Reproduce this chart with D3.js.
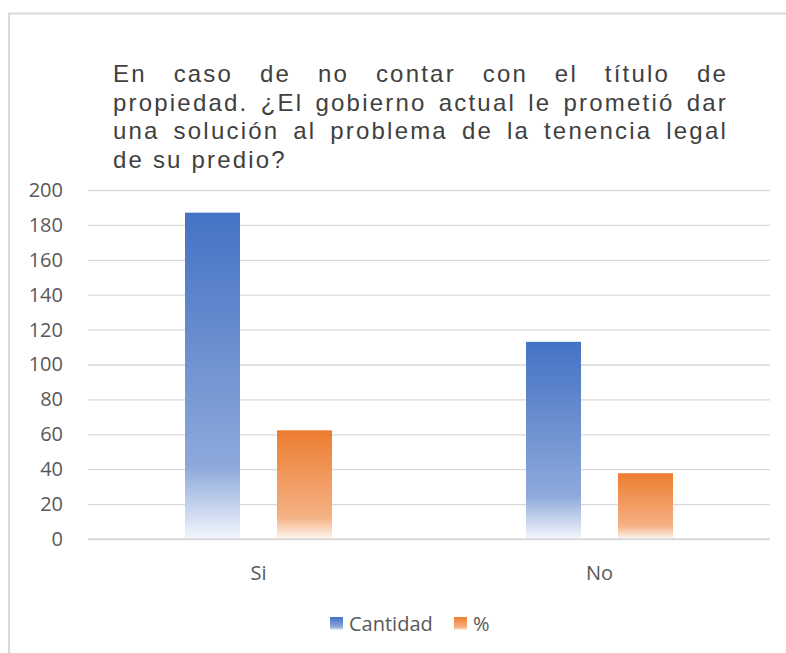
<!DOCTYPE html>
<html>
<head>
<meta charset="utf-8">
<script src="https://cdn.jsdelivr.net/npm/d3@7"></script>
<style>
  html, body { margin: 0; padding: 0; background: #fff; }
  svg { display: block; }
</style>
</head>
<body>
<div id="chart"></div>
<script>
"use strict";

//
//   DATA
//

var categories = ["Si", "No"];
var seriesNames = ["Cantidad", "%"];
var cantidad = [187, 113];
var porcentaje = [62.3, 37.7];
var yTicks = [0, 20, 40, 60, 80, 100, 120, 140, 160, 180, 200];
var titleLines = [
    "En caso de no contar con el título de",
    "propiedad. ¿El gobierno actual le prometió dar",
    "una solución al problema de la tenencia legal",
    "de su predio?"
];

//
//   LAYOUT
//

var W = 786, H = 653;
var plotLeft = 88, plotRight = 770, plotTop = 190, plotBottom = 539;
var colors = { "Cantidad": ["#4472C4", "#8EA9DB", "#F3F6FC"], "%": ["#ED7D31", "#F4B183", "#FEF6F1"] };
var LABEL_FONT = "'Open Sans', 'Noto Sans', sans-serif";

var svg = d3.select("#chart").append("svg")
    .attr("width", W)
    .attr("height", H);

// Gradients
var defs = svg.append("defs");
seriesNames.forEach(function (name, i) {
    var c = colors[name];
    var g = defs.append("linearGradient")
        .attr("id", "grad" + i)
        .attr("x1", 0).attr("y1", 0).attr("x2", 0).attr("y2", 1);
    g.append("stop").attr("offset", "0%").attr("stop-color", c[0]);
    g.append("stop").attr("offset", i == 0 ? "78%" : "80%").attr("stop-color", c[1]);
    g.append("stop").attr("offset", "100%").attr("stop-color", c[2]);
});

// Chart border
svg.append("path")
    .attr("d", "M9," + (H + 2) + "L9,13.5L" + (W + 2) + ",13.5")
    .attr("fill", "none")
    .attr("stroke", "#d9d9d9")
    .attr("stroke-width", 2);

// Scales
var y = d3.scaleLinear().domain([0, 200]).range([plotBottom, plotTop]);
var x0 = d3.scaleBand().domain(categories).range([plotLeft, plotRight]);
var barW = 55, barGap = 37;

// Gridlines + y labels
var yAxis = d3.axisLeft(y).tickValues(yTicks).tickSize(-(plotRight - plotLeft)).tickPadding(25);
var gy = svg.append("g")
    .attr("transform", "translate(" + plotLeft + ",0)")
    .call(yAxis);
gy.select(".domain").remove();
gy.selectAll(".tick line")
    .attr("stroke", "#d9d9d9")
    .attr("stroke-width", 1.3);
gy.selectAll(".tick text")
    .attr("fill", "#595959")
    .style("font-family", LABEL_FONT)
    .style("font-size", "20px");

// Bars
var seriesData = [cantidad, porcentaje];
seriesData.forEach(function (vals, si) {
    svg.append("g").selectAll("rect")
        .data(vals)
        .enter().append("rect")
        .attr("x", function (d, i) {
            var c = x0(categories[i]) + x0.bandwidth() / 2;
            return c - (barW * 2 + barGap) / 2 + si * (barW + barGap);
        })
        .attr("y", function (d) { return y(d); })
        .attr("width", barW)
        .attr("height", function (d) { return y(0) - y(d); })
        .attr("fill", "url(#grad" + si + ")");
});

// Baseline
svg.append("line")
    .attr("x1", plotLeft).attr("x2", plotRight)
    .attr("y1", y(0)).attr("y2", y(0))
    .attr("stroke", "#d9d9d9")
    .attr("stroke-width", 1.5);

// X labels
svg.append("g").selectAll("text")
    .data(categories)
    .enter().append("text")
    .attr("x", function (d) { return x0(d) + x0.bandwidth() / 2; })
    .attr("y", 580)
    .attr("text-anchor", "middle")
    .attr("fill", "#595959")
    .style("font-family", LABEL_FONT)
    .style("font-size", "20px")
    .text(function (d) { return d; });

// Title (justified, last line left aligned)
var titleLeft = 113, titleRight = 728, titleY = 82, lineH = 28.5;
var titleG = svg.append("g")
    .attr("fill", "#404040")
    .style("font-family", "'Liberation Sans', Arial, sans-serif")
    .style("font-size", "24px")
    .style("letter-spacing", "2.2px");

titleLines.forEach(function (line, li) {
    var words = line.split(" ");
    var nodes = words.map(function (w) {
        return titleG.append("text")
            .attr("x", 0)
            .attr("y", titleY + li * lineH)
            .text(w);
    });
    var widths = nodes.map(function (n) { return n.node().getBBox().width; });
    var total = d3.sum(widths);
    var last = li == titleLines.length - 1;
    var gap = last ? 8.8 : (titleRight - titleLeft - total) / (words.length - 1);
    var xPos = titleLeft;
    nodes.forEach(function (n, wi) {
        n.attr("x", xPos);
        xPos += widths[wi] + gap;
    });
});

// Legend
var legendItems = [{ name: "Cantidad", x: 330 }, { name: "%", x: 454 }];
var legend = svg.append("g");
legendItems.forEach(function (d, i) {
    legend.append("rect")
        .attr("x", d.x).attr("y", 617)
        .attr("width", 13).attr("height", 13)
        .attr("fill", "url(#grad" + i + ")");
    legend.append("text")
        .attr("x", d.x + 19).attr("y", 631)
        .attr("fill", "#595959")
        .style("font-family", LABEL_FONT)
        .style("font-size", "20px")
        .text(d.name);
});
</script>
</body>
</html>
